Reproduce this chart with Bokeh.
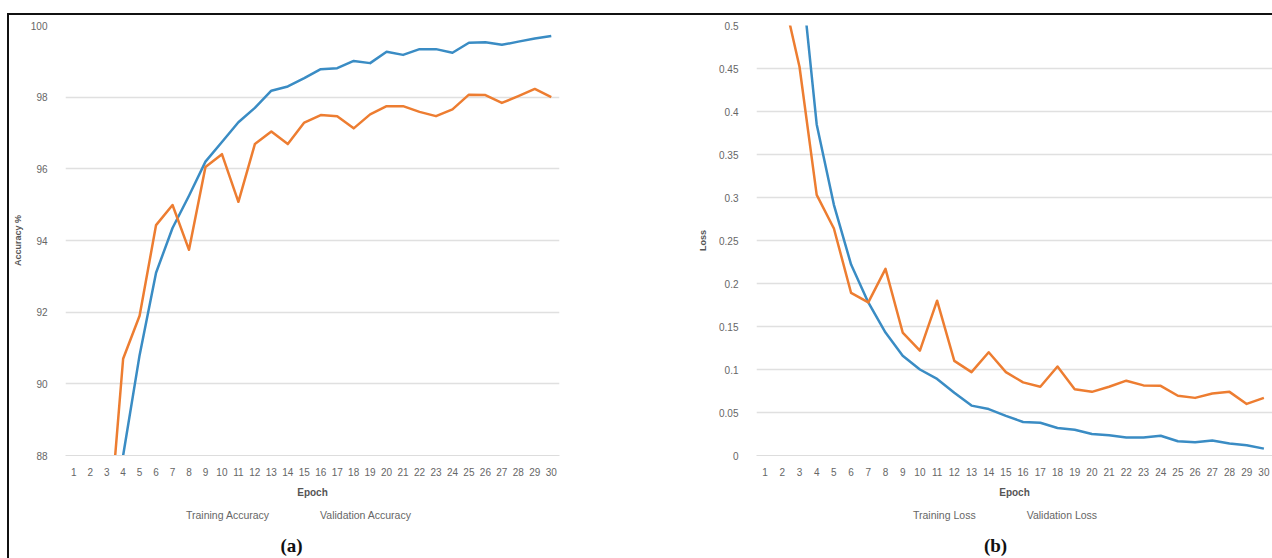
from bokeh.plotting import figure
from bokeh.models import (FactorRange, Range1d, FixedTicker, PrintfTickFormatter,
                          Legend, LegendItem, Label)
from bokeh.layouts import row, column
from bokeh.embed import file_html
from bokeh.resources import INLINE

# ---------------- data ----------------
epochs = ["1", "2", "3", "4", "5", "6", "7", "8", "9", "10",
          "11", "12", "13", "14", "15", "16", "17", "18", "19", "20",
          "21", "22", "23", "24", "25", "26", "27", "28", "29", "30"]

train_acc = [72.0, 81.5, 85.8, 88.0, 90.8, 93.1, 94.35, 95.25, 96.2, 96.75,
             97.3, 97.7, 98.18, 98.3, 98.53, 98.78, 98.81, 99.01, 98.95, 99.27,
             99.18, 99.34, 99.34, 99.24, 99.52, 99.53, 99.46, 99.55, 99.64, 99.71]
val_acc = [78.0, 83.5, 85.1, 90.7, 91.9, 94.43, 94.99, 93.74, 96.05, 96.41,
           95.08, 96.69, 97.04, 96.69, 97.29, 97.5, 97.47, 97.13, 97.52, 97.75,
           97.75, 97.59, 97.47, 97.66, 98.07, 98.06, 97.84, 98.03, 98.23, 98.0]

train_loss = [1.10, 0.78, 0.58, 0.385, 0.2915, 0.222, 0.178, 0.143, 0.116, 0.100,
              0.089, 0.073, 0.058, 0.054, 0.046, 0.039, 0.038, 0.032, 0.030, 0.025,
              0.0235, 0.021, 0.021, 0.023, 0.0165, 0.0155, 0.0175, 0.014, 0.012, 0.008]
val_loss = [0.72, 0.54, 0.452, 0.303, 0.264, 0.189, 0.178, 0.217, 0.143, 0.122,
            0.180, 0.110, 0.097, 0.120, 0.097, 0.085, 0.080, 0.1035, 0.077, 0.074,
            0.080, 0.087, 0.0815, 0.081, 0.0695, 0.067, 0.072, 0.074, 0.060, 0.067]

acc_ticks = [88, 90, 92, 94, 96, 98, 100]
loss_ticks = [0, 0.05, 0.1, 0.15, 0.2, 0.25, 0.3, 0.35, 0.4, 0.45, 0.5]

captions = ["(a)", "(b)"]

# ---------------- style ----------------
BLUE = "#3a8cc4"
ORANGE = "#ed7d31"
GRID = "#e0e0e0"
TXT = "#666666"
FONT = "Liberation Sans"


def make_chart(width, min_left, min_right, min_top, y_range, ticks, fmt,
               ylabel, ya, yb, y_label_standoff):
    p = figure(width=width, height=485, x_range=FactorRange(factors=epochs),
               y_range=y_range, output_backend="svg", toolbar_location=None,
               min_border_left=min_left, min_border_right=min_right,
               min_border_top=min_top, min_border_bottom=43)
    p.outline_line_color = None
    p.background_fill_color = "white"
    p.border_fill_color = "white"

    p.xgrid.grid_line_color = None
    p.ygrid.grid_line_color = GRID
    p.ygrid.grid_line_width = 1.5

    p.yaxis.ticker = FixedTicker(ticks=ticks)
    if fmt is not None:
        p.yaxis.formatter = fmt
    p.yaxis.axis_line_color = None
    p.yaxis.major_tick_line_color = None
    p.yaxis.minor_tick_line_color = None
    p.yaxis.major_label_standoff = 12
    p.yaxis.major_label_text_font = FONT
    p.yaxis.major_label_text_font_size = "10px"
    p.yaxis.major_label_text_color = TXT
    p.yaxis.axis_label = ylabel
    p.yaxis.axis_label_text_font = FONT
    p.yaxis.axis_label_text_font_size = "9px"
    p.yaxis.axis_label_text_font_style = "bold"
    p.yaxis.axis_label_text_color = "#555555"
    p.yaxis.axis_label_standoff = y_label_standoff

    p.xaxis.axis_line_color = "#dddddd"
    p.xaxis.axis_line_width = 1
    p.xaxis.major_tick_line_color = None
    p.xaxis.minor_tick_line_color = None
    p.xaxis.major_label_standoff = 6
    p.xaxis.major_label_text_font = FONT
    p.xaxis.major_label_text_font_size = "10px"
    p.xaxis.major_label_text_color = TXT
    p.xaxis.axis_label = "Epoch"
    p.xaxis.axis_label_text_font = FONT
    p.xaxis.axis_label_text_font_size = "10px"
    p.xaxis.axis_label_text_font_style = "bold"
    p.xaxis.axis_label_text_color = "#555555"
    p.xaxis.axis_label_standoff = 8

    p.line(x=epochs, y=ya, line_color=BLUE, line_width=2.5, line_join="round")
    p.line(x=epochs, y=yb, line_color=ORANGE, line_width=2.5, line_join="round")
    return p


def make_footer(width, la, lb, legend_x, caption, cap_x):
    # strip below each chart holding its legend and its "(a)"/"(b)" caption
    q = figure(width=width, height=58, x_range=Range1d(0, width), y_range=Range1d(0, 58),
               x_axis_type=None, y_axis_type=None, output_backend="svg",
               toolbar_location=None, min_border=0)
    q.outline_line_color = None
    q.background_fill_color = "white"
    q.border_fill_color = "white"
    q.grid.visible = False

    k1 = q.line(x=[], y=[], line_color=BLUE, line_width=2.5)
    k2 = q.line(x=[], y=[], line_color=ORANGE, line_width=2.5)
    legend = Legend(items=[LegendItem(label=la, renderers=[k1]),
                           LegendItem(label=lb, renderers=[k2])],
                    orientation="horizontal", location=(legend_x, 37),
                    padding=0, margin=0, spacing=18, label_standoff=2,
                    glyph_width=31, glyph_height=12,
                    label_text_font=FONT, label_text_font_size="10.5px",
                    label_text_color=TXT, border_line_color=None,
                    background_fill_alpha=0)
    q.add_layout(legend, "center")

    q.add_layout(Label(x=cap_x, y=13, text=caption, text_align="center",
                       text_baseline="middle", text_font="Liberation Serif",
                       text_font_size="19px", text_font_style="bold",
                       text_color="#111111"))
    return q


p1 = make_chart(632, 50, 82, 8, Range1d(88, 100), acc_ticks, None,
                "Accuracy %", train_acc, val_acc, 5)
p2 = make_chart(631, 115, 0, 10, Range1d(0, 0.5), loss_ticks,
                PrintfTickFormatter(format="%g"),
                "Loss", train_loss, val_loss, 8)

q1 = make_footer(632, "Training Accuracy", "Validation Accuracy", 144, captions[0], 282)
q2 = make_footer(631, "Training Loss", "Validation Loss", 239, captions[1], 354)

layout = column(row(p1, p2), row(q1, q2), margin=(13, 0, 0, 7),
                styles={"border-top": "2px solid #111111", "border-left": "2px solid #111111"})

open("out.html", "w").write(file_html(layout, INLINE))
